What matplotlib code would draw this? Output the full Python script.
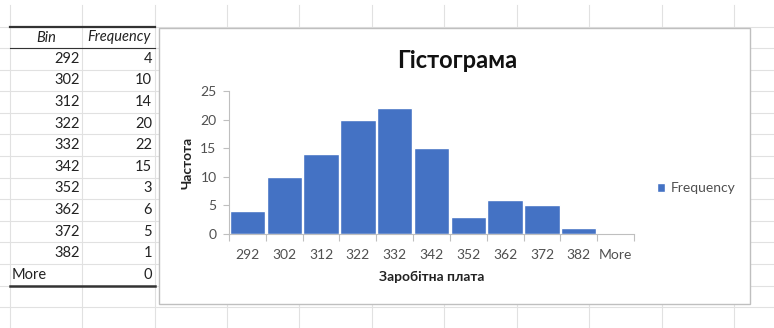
import numpy as np
import matplotlib
matplotlib.use("Agg")
import matplotlib.pyplot as plt
from matplotlib.patches import Rectangle

plt.rcParams['font.family'] = ['Lato', 'DejaVu Sans']

# data
bins = ['292', '302', '312', '322', '332', '342', '352', '362', '372', '382', 'More']
freq = [4, 10, 14, 20, 22, 15, 3, 6, 5, 1, 0]

title = 'Гістограма'
xlabel = 'Заробітна плата'
ylabel = 'Частота'
series_name = 'Frequency'

bar_color = '#4472C4'
text_color = '#505050'
grid_color = '#E1E1E1'

W, H = 774, 328
fig = plt.figure(figsize=(W / 100, H / 100), dpi=100)

# ========================================
# spreadsheet background (pixel coords)
# ========================================
bg = fig.add_axes([0, 0, 1, 1])
bg.set_xlim(0, W)
bg.set_ylim(H, 0)
bg.axis('off')

col_x = [10, 82, 155, 227, 299, 372, 444, 517, 589, 662, 734]
row_y = [5, 26.5, 48, 69.6, 91.2, 112.8, 134.4, 156, 177.6, 199.2, 220.8, 242.4, 264, 285.6, 307.2]
for x in col_x:
    bg.plot([x, x], [5, H], color=grid_color, lw=0.8)
for y in row_y[1:]:
    bg.plot([0, W], [y, y], color=grid_color, lw=0.8)

# table
bg.plot([10, 155], [26.5, 26.5], color='#333333', lw=1.6)
bg.plot([10, 155], [48, 48], color='#333333', lw=0.8)
bg.plot([10, 155], [285.6, 285.6], color='#333333', lw=1.8)
tfs = 10.5
bg.text(46, 37.5, 'Bin', ha='center', va='center', style='italic', fontsize=tfs, color='#222222')
bg.text(119, 37.5, series_name, ha='center', va='center', style='italic', fontsize=tfs, color='#222222')
for i, (b, f) in enumerate(zip(bins, freq)):
    yc = row_y[2 + i] + 10.8
    if b == 'More':
        bg.text(12, yc, b, ha='left', va='center', fontsize=tfs, color='#222222')
    else:
        bg.text(80, yc, b, ha='right', va='center', fontsize=tfs, color='#222222')
    bg.text(152, yc, str(f), ha='right', va='center', fontsize=tfs, color='#222222')

# chart area box
bg.add_patch(Rectangle((160, 29), 591, 276, facecolor='#D9D9D9', edgecolor='none', zorder=3))
bg.add_patch(Rectangle((159, 28), 591, 276, facecolor='white', edgecolor='#BFBFBF', lw=1, zorder=4))

bg.text(457, 60, title, ha='center', va='center', fontsize=17, fontweight='bold', color='#111111', zorder=5)
bg.text(432, 277, xlabel, ha='center', va='center', fontsize=10, fontweight='bold', color='#222222', zorder=5)
bg.text(188, 163, ylabel, ha='center', va='center', rotation=90, fontsize=10, fontweight='bold', color='#222222', zorder=5)

# ========================================
# chart
# ========================================
ax = fig.add_axes([229 / W, 1 - 234 / H, (634 - 229) / W, (234 - 91) / H])
ax.patch.set_alpha(0)
x = np.arange(len(bins))
bars = ax.bar(x, freq, width=0.96, color=bar_color, edgecolor='white', linewidth=1, label=series_name)
ax.set_xlim(-0.5, len(bins) - 0.5)
ax.set_ylim(0, 25)
ax.set_yticks([0, 5, 10, 15, 20, 25])
ax.set_xticks(x)
ax.set_xticklabels(bins)
ax.set_xticks(np.arange(len(bins) + 1) - 0.5, minor=True)
ax.tick_params(axis='x', which='major', length=0, pad=11, labelsize=10, labelcolor=text_color)
ax.tick_params(axis='x', which='minor', length=5, color='#BFBFBF', width=0.8)
ax.tick_params(axis='y', length=4, color='#BFBFBF', width=0.8, labelsize=10, labelcolor=text_color, pad=5)
for s in ['top', 'right']:
    ax.spines[s].set_visible(False)
for s in ['left', 'bottom']:
    ax.spines[s].set_color('#BFBFBF')
    ax.spines[s].set_linewidth(0.8)

fig.legend(handles=[bars], labels=[series_name], loc='center left',
           bbox_to_anchor=(644 / W, 1 - 188 / H), frameon=False,
           handlelength=0.6, handleheight=0.6, handletextpad=0.4,
           fontsize=10, labelcolor=text_color)

fig.savefig('out.png', dpi=100)
